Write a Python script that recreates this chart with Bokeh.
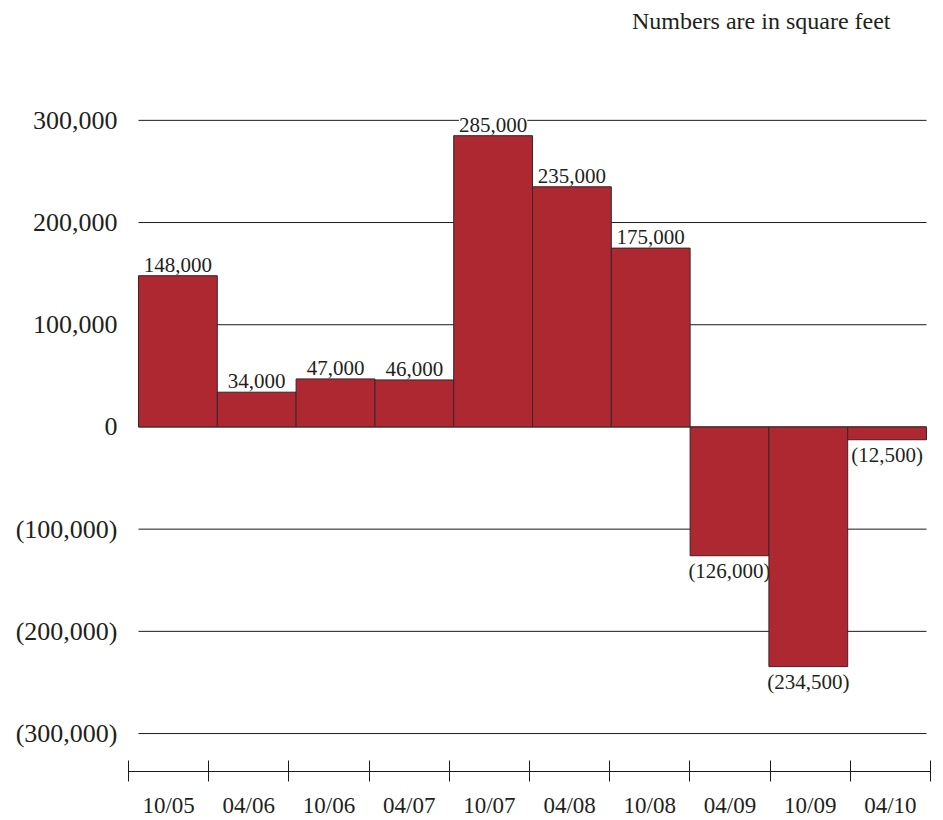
from bokeh.plotting import figure
from bokeh.models import (Range1d, LinearAxis, FixedTicker, ColumnDataSource,
                          LabelSet, Label)
from bokeh.embed import file_html
from bokeh.resources import INLINE

# ---- data ----
periods = ["10/05", "04/06", "10/06", "04/07", "10/07", "04/08", "10/08", "04/09", "10/09", "04/10"]
values = [148000, 34000, 47000, 46000, 285000, 235000, 175000, -126000, -234500, -12500]
y_ticks = [-300000, -200000, -100000, 0, 100000, 200000, 300000]
note = "Numbers are in square feet"

def fmt(v):
    s = f"{abs(v):,.0f}"
    return f"({s})" if v < 0 else s

FONT = "Liberation Serif"
TXT = "#231f20"
BAR = "#ad2831"
EDGE = "#3a2528"

n = len(periods)
idx = list(range(n))
centers = [i + 0.5 for i in idx]

# ---- layout geometry (pixels) ----
W, H = 943, 820
frame_left, frame_right = 128, 930
frame_top, frame_bottom = 0, 772
zero_px, top_tick_px = 427, 120
bars_left, bars_right = 138, 926

units_per_px_y = 300000 / (zero_px - top_tick_px)
y_end = (zero_px - frame_top) * units_per_px_y
y_start = -(frame_bottom - zero_px) * units_per_px_y

bar_px = (bars_right - bars_left) / n
b_start = -(bars_left - frame_left) / bar_px
b_end = n + (frame_right - bars_right) / bar_px

p = figure(width=W, height=H, output_backend="svg", toolbar_location=None,
           x_range=Range1d(b_start, b_end), y_range=Range1d(y_start, y_end),
           x_axis_location=None,
           min_border_left=frame_left, min_border_right=W - frame_right,
           min_border_top=frame_top, min_border_bottom=H - frame_bottom)
p.outline_line_color = None
p.background_fill_color = "white"
p.border_fill_color = "white"

# y axis
yax = p.yaxis[0]
yax.ticker = FixedTicker(ticks=y_ticks, minor_ticks=[])
yax.major_label_overrides = {t: fmt(t) for t in y_ticks}
yax.axis_line_color = None
yax.major_tick_line_color = None
yax.major_tick_out = 0
yax.major_tick_in = 0
yax.minor_tick_line_color = None
yax.major_label_standoff = 11
yax.major_label_text_font = FONT
yax.major_label_text_font_size = "26px"
yax.major_label_text_color = TXT

# grid lines spanning only the bar area
p.xgrid.visible = False
p.ygrid.visible = False
p.segment(x0=[0] * len(y_ticks), x1=[n] * len(y_ticks), y0=y_ticks, y1=y_ticks,
          line_color="#1a1a1a", line_width=1, level="underlay")

# bar labels (underlay: they mask the grid lines, bars are drawn over them)
pos = ColumnDataSource(dict(x=[c for c, v in zip(centers, values) if v >= 0],
                            y=[v for v in values if v >= 0],
                            t=[fmt(v) for v in values if v >= 0]))
neg = ColumnDataSource(dict(x=[c for c, v in zip(centers, values) if v < 0],
                            y=[v for v in values if v < 0],
                            t=[fmt(v) for v in values if v < 0]))
common = dict(text_font=FONT, text_font_size="21px", text_color=TXT,
              text_align="center", background_fill_color="white", level="underlay")
p.add_layout(LabelSet(x="x", y="y", text="t", source=pos, y_offset=4,
                      text_baseline="alphabetic", **common))
p.add_layout(LabelSet(x="x", y="y", text="t", source=neg, y_offset=-3,
                      text_baseline="top", **common))

# bars
src = ColumnDataSource(dict(x=centers, top=values))
p.vbar(x="x", top="top", bottom=0, width=1, source=src,
       fill_color=BAR, line_color=EDGE, line_width=1)

# bottom axis (period axis with boundary ticks)
p.extra_x_ranges = {"periods": Range1d(0, n)}
xax = LinearAxis(x_range_name="periods")
xax.ticker = FixedTicker(ticks=centers, minor_ticks=list(range(n + 1)))
xax.major_label_overrides = {c: lab for c, lab in zip(centers, periods)}
xax.major_tick_line_color = None
xax.major_tick_in = 0
xax.major_tick_out = 0
xax.minor_tick_in = 11
xax.minor_tick_out = 10
xax.minor_tick_line_color = "#1a1a1a"
xax.axis_line_color = "#1a1a1a"
xax.major_label_standoff = 11
xax.major_label_text_font = FONT
xax.major_label_text_font_size = "23px"
xax.major_label_text_color = TXT
p.add_layout(xax, "below")

# note
p.add_layout(Label(x=890 - frame_left, y=frame_bottom - 21, x_units="screen", y_units="screen",
                   text=note, text_font=FONT, text_font_size="24px", text_color=TXT,
                   text_align="right", text_baseline="middle"))

open("out.html", "w").write(file_html(p, INLINE))
